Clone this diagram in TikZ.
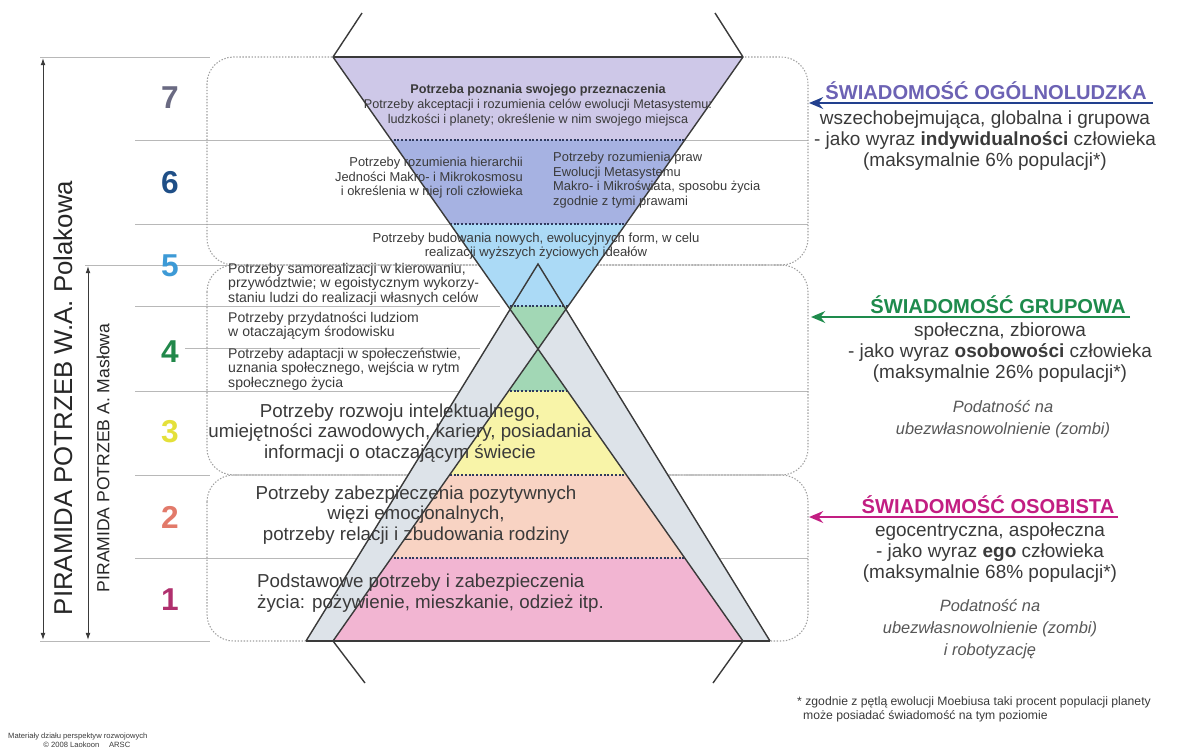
\documentclass[tikz,border=0pt]{standalone}
\usepackage{fontspec}
\setmainfont{Liberation Sans}
\usetikzlibrary{arrows.meta}

\definecolor{lvseven}{HTML}{CEC8E8}
\definecolor{lvsix}{HTML}{A6B2E2}
\definecolor{lvfive}{HTML}{ABDAF6}
\definecolor{lvfour}{HTML}{A2D7B5}
\definecolor{lvthree}{HTML}{F8F4A8}
\definecolor{lvtwo}{HTML}{F8D3C3}
\definecolor{lvone}{HTML}{F2B5D2}
\definecolor{bandgray}{HTML}{DDE3E9}
\definecolor{inkgray}{HTML}{3A3A3A}
\definecolor{rulegray}{HTML}{B8B8B8}
\definecolor{layerdots}{HTML}{2E3A5E}
\definecolor{numseven}{HTML}{6A6A82}
\definecolor{numsix}{HTML}{1F4F87}
\definecolor{numfive}{HTML}{3D9AD6}
\definecolor{numfour}{HTML}{21884A}
\definecolor{numthree}{HTML}{E4E03A}
\definecolor{numtwo}{HTML}{E27A6A}
\definecolor{numone}{HTML}{B0306E}
\definecolor{ogolblue}{HTML}{6C62B4}
\definecolor{arrowblue}{HTML}{22408E}
\definecolor{grupgreen}{HTML}{1E8B4C}
\definecolor{osobmag}{HTML}{C21E82}

\newcommand{\fsz}[2]{\fontsize{#1}{#2}\selectfont}

\begin{document}
\begin{tikzpicture}[x=0.03cm,y=-0.03cm,
  edge/.style={draw=inkgray,line width=1.2pt},
  rule/.style={draw=rulegray,line width=0.6pt},
  boxline/.style={draw=gray!75,line width=0.9pt,dash pattern=on 1.2pt off 1.4pt,rounded corners=0.8cm},
  layerline/.style={draw=layerdots,line width=1.3pt,dash pattern=on 1.6pt off 1.6pt},
  dimarrow/.style={draw=inkgray,line width=0.8pt,{Latex[length=6pt,width=4pt]}-{Latex[length=6pt,width=4pt]}},
  pointer/.style={line width=2pt,-{Stealth[length=12pt,width=10pt]}},
  lvnum/.style={font=\fsz{27}{30}\bfseries,inner sep=0pt},
  need/.style={text=inkgray,inner sep=0pt,align=center},
  head/.style={font=\fsz{17.2}{19}\bfseries,inner sep=0pt},
  gist/.style={text=inkgray,inner sep=0pt,align=center,font=\fsz{16.2}{17.9}},
  risk/.style={text=inkgray!85,inner sep=0pt,align=center,font=\fsz{14}{18.7}\itshape}]
  \useasboundingbox (0,0) rectangle (1183,747);

  % corners of the hourglass and of the grey pyramid
  \coordinate (inv-l) at (333,57);
  \coordinate (inv-r) at (743,57);
  \coordinate (base-l) at (333,641);
  \coordinate (base-r) at (743,641);
  \coordinate (gray-l) at (306,641);
  \coordinate (gray-r) at (770,641);
  \coordinate (gray-top) at (538,264);

  % thin rules of the level table
  \draw[rule] (40,57) -- (210,57);
  \foreach \y in {140,224,391,558}
    \draw[rule] (135,\y) -- (808,\y);
  \draw[rule] (85,265) -- (230,265);
  \draw[rule] (135,306) -- (500,306);
  \draw[rule] (185,348) -- (480,348);
  \draw[rule] (135,475) -- (210,475);
  \draw[rule] (40,641) -- (210,641);

  % dotted boxes of the three kinds of awareness
  \draw[boxline] (207,57) rectangle (808,265);
  \draw[boxline] (207,265) rectangle (808,475);
  \draw[boxline] (207,475) rectangle (808,641);

  \fill[bandgray] (gray-l) -- (gray-top) -- (gray-r) -- cycle;

  \begin{scope}
    \clip (inv-l) -- (inv-r) -- (base-l) -- (base-r) -- cycle;
    \foreach \ya/\yb/\c in {57/140/lvseven,140/224/lvsix,224/306/lvfive,306/391/lvfour,391/475/lvthree,475/558/lvtwo,558/641/lvone}
      \fill[\c] (300,\ya) rectangle (780,\yb);
    \foreach \y in {140,224,306,391,475,558}
      \draw[layerline] (300,\y) -- (780,\y);
  \end{scope}

  \draw[edge] (inv-l) -- (base-r);
  \draw[edge] (inv-r) -- (base-l);
  \draw[edge] (inv-l) -- (inv-r);
  \draw[edge] (gray-l) -- (gray-r);
  \draw[edge] (gray-l) -- (gray-top) -- (gray-r);
  \draw[edge] (inv-l) -- (362,13) (inv-r) -- (715,13);
  \draw[edge] (base-l) -- (365,683) (base-r) -- (713,683);

  % level numbers
  \foreach \n/\y/\c in {7/98/numseven,6/183/numsix,5/266/numfive,4/352/numfour,3/432/numthree,2/517/numtwo,1/600/numone}
    \node[lvnum,text=\c] (num\n) at (170,\y) {\n};

  % the two pyramids on the left
  \coordinate (pol-top) at (43,58);
  \coordinate (pol-bot) at (43,640);
  \coordinate (mas-top) at (88,266);
  \coordinate (mas-bot) at (88,640);
  \draw[dimarrow] (pol-top) -- (pol-bot);
  \draw[dimarrow] (mas-top) -- (mas-bot);
  \node[rotate=90,inner sep=0pt,text=black!85,font=\fsz{22}{24}] (pol-label) at (63,398) {PIRAMIDA POTRZEB W.A. Polakowa};
  \node[rotate=90,inner sep=0pt,text=black!85,font=\fsz{15}{17}] (mas-label) at (103,458) {PIRAMIDA POTRZEB A. Masłowa};

  % needs inside the levels
  \node[need,font=\fsz{10.8}{12.6}] (need7) at (538,105)
    {\textbf{Potrzeba poznania swojego przeznaczenia}\\Potrzeby akceptacji i rozumienia celów ewolucji Metasystemu:\\ludzkości i planety; określenie w nim swojego miejsca};
  \node[need,align=right,anchor=east,font=\fsz{11}{12.5}] (need6a) at (523,178)
    {Potrzeby rozumienia hierarchii\\Jedności Makro- i Mikrokosmosu\\i określenia w niej roli człowieka};
  \node[need,align=left,anchor=west,font=\fsz{11}{12.5}] (need6b) at (553,180)
    {Potrzeby rozumienia praw\\Ewolucji Metasystemu\\Makro- i Mikroświata, sposobu życia\\zgodnie z tymi prawami};
  \node[need,font=\fsz{11.2}{10.4}] (need5) at (536,246)
    {Potrzeby budowania nowych, ewolucyjnych form, w celu\\realizacji wyższych życiowych ideałów};
  \node[need,align=left,anchor=west,font=\fsz{12}{10.4}] (need4a) at (228,284)
    {Potrzeby samorealizacji w kierowaniu,\\przywództwie; w egoistycznym wykorzy-\\staniu ludzi do realizacji własnych celów};
  \node[need,align=left,anchor=west,font=\fsz{12}{10.8}] (need4b) at (228,326)
    {Potrzeby przydatności ludziom\\w otaczającym środowisku};
  \node[need,align=left,anchor=west,font=\fsz{12}{10.4}] (need4c) at (228,369)
    {Potrzeby adaptacji w społeczeństwie,\\uznania społecznego, wejścia w rytm\\społecznego życia};
  \node[need,font=\fsz{16}{17.4}] (need3) at (400,433)
    {Potrzeby rozwoju intelektualnego,\\umiejętności zawodowych, kariery, posiadania\\informacji o otaczającym świecie};
  \node[need,font=\fsz{16}{17.4}] (need2) at (416,515)
    {Potrzeby zabezpieczenia pozytywnych\\więzi emocjonalnych,\\potrzeby relacji i zbudowania rodziny};
  \node[need,align=left,anchor=west,font=\fsz{16}{17.8}] (need1) at (257,593)
    {Podstawowe potrzeby i zabezpieczenia\\życia: pożywienie, mieszkanie, odzież itp.};

  % awareness on the right
  \node[head,text=ogolblue] (ogol) at (986,91) {ŚWIADOMOŚĆ OGÓLNOLUDZKA};
  \coordinate (ogol-from) at (1153,103);
  \coordinate (ogol-to) at (809,103);
  \draw[pointer,arrowblue] (ogol-from) -- (ogol-to);
  \node[gist] (ogol-text) at (985,141)
    {wszechobejmująca, globalna i grupowa\\- jako wyraz \textbf{indywidualności} człowieka\\(maksymalnie 6\% populacji*)};

  \node[head,text=grupgreen] (grup) at (998,305) {ŚWIADOMOŚĆ GRUPOWA};
  \coordinate (grup-from) at (1130,317);
  \coordinate (grup-to) at (811,317);
  \draw[pointer,grupgreen] (grup-from) -- (grup-to);
  \node[gist] (grup-text) at (1000,353)
    {społeczna, zbiorowa\\- jako wyraz \textbf{osobowości} człowieka\\(maksymalnie 26\% populacji*)};
  \node[risk] (grup-risk) at (1003,419) {Podatność na\\ubezwłasnowolnienie (zombi)};

  \node[head,text=osobmag] (osob) at (988,505) {ŚWIADOMOŚĆ OSOBISTA};
  \coordinate (osob-from) at (1118,517);
  \coordinate (osob-to) at (809,517);
  \draw[pointer,osobmag] (osob-from) -- (osob-to);
  \node[gist] (osob-text) at (990,553)
    {egocentryczna, aspołeczna\\- jako wyraz \textbf{ego} człowieka\\(maksymalnie 68\% populacji*)};
  \node[risk] (osob-risk) at (990,629) {Podatność na\\ubezwłasnowolnienie (zombi)\\i robotyzację};

  \node[need,align=left,anchor=west,font=\fsz{10.4}{12}] (note) at (797,709)
    {* zgodnie z pętlą ewolucji Moebiusa taki procent populacji planety\\\hspace*{5pt}może posiadać świadomość na tym poziomie};
  \node[need,align=left,anchor=west,font=\fsz{6.5}{7.5}] (source) at (8,740)
    {Materiały działu perspektyw rozwojowych\\\hspace*{30pt}© 2008 Laokoon \quad ARSC};
\end{tikzpicture}
\end{document}
